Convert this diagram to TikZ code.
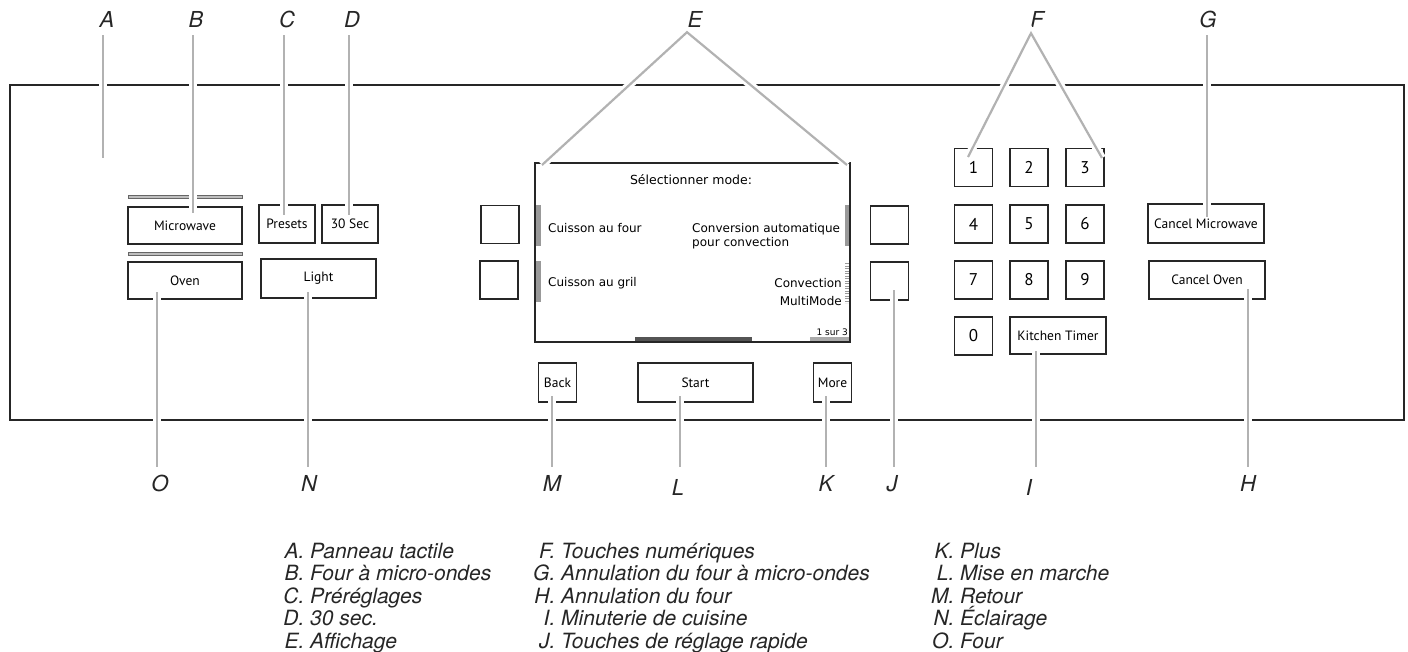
\documentclass[tikz,border=0pt]{standalone}
\usepackage{fontspec}
\setmainfont{TeX Gyre Heros}
\newfontfamily\keyfont{PT Sans}
\newfontfamily\lcdfont{DejaVu Sans}

\begin{document}
\begin{tikzpicture}[
        x=1pt, y=-1pt,
        key/.style={draw=black!85, line width=1.8pt, inner sep=0pt, minimum width=38pt, minimum height=38pt, font=\keyfont\fontsize{13.5}{15}\selectfont},
        widekey/.style={key, minimum width=115pt},
        digitkey/.style={key, font=\keyfont\fontsize{17}{19}\selectfont},
        callout/.style={font=\itshape\fontsize{22}{22}\selectfont, text=black!85, text height=16pt, text depth=0pt, inner xsep=0pt, inner ysep=8pt},
        leader/.style={draw=black!30, line width=2.2pt, preaction={draw=white, line width=8pt}},
        lcdtext/.style={font=\lcdfont\fontsize{12}{14.5}\selectfont, inner sep=0pt},
        legend/.style={font=\itshape\fontsize{21}{23}\selectfont, text=black!85, anchor=base west, inner sep=0pt}
    ]
        \useasboundingbox (0,0) rectangle (1408,651);

        % Touch panel
        \draw[line width=2.2pt, black!85] (10,85) rectangle (1404,420);

        % Cooking keys on the left
        \draw[draw=black!60, fill=black!25, line width=0.6pt] (128,195.5) rectangle (242,198.5);
        \draw[draw=black!60, fill=black!25, line width=0.6pt] (128,252) rectangle (242,255);
        \node[widekey, minimum width=114pt, minimum height=37pt] (microwave) at (185,225.5) {Microwave};
        \node[widekey, minimum width=114pt, minimum height=37pt] (oven) at (185,280.5) {Oven};
        \node[key, minimum width=56pt] (presets) at (287,224) {Presets};
        \node[key, minimum width=56pt] (sec30) at (350,224) {30 Sec};
        \node[widekey, minimum height=39pt] (light) at (318.5,278.5) {Light};

        % Soft keys beside the display
        \node[key] (softL1) at (500,224.5) {};
        \node[key] (softL2) at (499,280) {};
        \node[key] (softR1) at (889.5,225) {};
        \node[key] (softR2) at (889.5,281) {};

        % Display
        \fill[black!40] (536,205) rectangle (541,246);
        \fill[black!40] (536,261) rectangle (541,302);
        \fill[black!40] (845,205) rectangle (850,246);
        \draw[black!40, line width=5pt, dash pattern=on 1.2pt off 1.3pt] (847.5,263) -- (847.5,303);
        \fill[black!67] (635,337) rectangle (752,342);
        \fill[black!33] (810,337) rectangle (849,342);
        \draw[line width=1.5pt, black!85] (535,163) rectangle (850,342);
        \node[lcdtext, font=\lcdfont\fontsize{12.5}{14.5}\selectfont] (title) at (691,180) {Sélectionner mode:};
        \node[lcdtext, anchor=west] (bake) at (548,228) {Cuisson au four};
        \node[lcdtext, anchor=west] (broil) at (548,283) {Cuisson au gril};
        \node[lcdtext, anchor=west, align=left] (convert) at (692,236) {Conversion automatique\\pour convection};
        \node[lcdtext, anchor=east, align=right, font=\lcdfont\fontsize{12}{18}\selectfont] (multimode) at (842,292) {Convection\\MultiMode};
        \node[lcdtext, anchor=east, font=\lcdfont\fontsize{9}{10}\selectfont] (page) at (848,332) {1 sur 3};

        % Keys below the display
        \node[key, minimum height=39pt] (back) at (557.5,382.5) {Back};
        \node[widekey, minimum height=39pt] (start) at (695.5,382.5) {Start};
        \node[key, minimum height=39pt] (more) at (832.5,382.5) {More};

        % Number pad
        \node[digitkey] (k1) at (973.5,167.5) {1};
        \node[digitkey] (k2) at (1029,167.5) {2};
        \node[digitkey] (k3) at (1085,167.5) {3};
        \node[digitkey] (k4) at (973.5,224) {4};
        \node[digitkey] (k5) at (1029,224) {5};
        \node[digitkey] (k6) at (1085,224) {6};
        \node[digitkey] (k7) at (973.5,280) {7};
        \node[digitkey] (k8) at (1029,280) {8};
        \node[digitkey] (k9) at (1085,280) {9};
        \node[digitkey] (k0) at (973.5,336) {0};
        \node[key, minimum width=96pt, minimum height=37pt] (timer) at (1058,335.5) {Kitchen Timer};

        % Cancel keys
        \node[key, minimum width=116pt, minimum height=39pt] (cancelmw) at (1206,223.5) {Cancel Microwave};
        \node[key, minimum width=116pt] (canceloven) at (1207,280) {Cancel Oven};

        % Callouts above the panel
        \node[callout] (cA) at (107,19) {A};
        \node[callout] (cB) at (196,19) {B};
        \node[callout] (cC) at (287,19) {C};
        \node[callout] (cD) at (352,19) {D};
        \node[callout] (cE) at (695,19) {E};
        \node[callout] (cF) at (1037,19) {F};
        \node[callout] (cG) at (1208,19) {G};
        \coordinate (tA) at (103,158);
        \coordinate (tB) at (193,213);
        \coordinate (tC) at (284,215);
        \coordinate (tD) at (349,215);
        \coordinate (tEl) at (542,165);
        \coordinate (tEr) at (847,165);
        \coordinate (tFl) at (968,157);
        \coordinate (tFr) at (1102,158);
        \coordinate (tG) at (1207,217);
        \draw[leader] (cA.south -| tA) -- (tA);
        \draw[leader] (cB.south -| tB) -- (tB);
        \draw[leader] (cC.south -| tC) -- (tC);
        \draw[leader] (cD.south -| tD) -- (tD);
        \draw[leader] (tEl) -- ([xshift=-8pt, yshift=3pt]cE.south) -- (tEr);
        \draw[leader] (tFl) -- ([xshift=-6pt, yshift=2pt]cF.south) -- (tFr);
        \draw[leader] (cG.south -| tG) -- (tG);

        % Callouts below the panel
        \node[callout] (cO) at (160,483) {O};
        \node[callout] (cN) at (309,483) {N};
        \node[callout] (cM) at (552,483) {M};
        \node[callout] (cL) at (678,487) {L};
        \node[callout] (cK) at (826,483) {K};
        \node[callout] (cJ) at (892,483) {J};
        \node[callout] (cI) at (1029,487) {I};
        \node[callout] (cH) at (1248,483) {H};
        \coordinate (tO) at (157,292);
        \coordinate (tN) at (308,292);
        \coordinate (tM) at (552,396);
        \coordinate (tL) at (680,396);
        \coordinate (tK) at (826,396);
        \coordinate (tJ) at (894,290);
        \coordinate (tI) at (1036,351);
        \coordinate (tH) at (1248,289);
        \draw[leader] (tO) -- (cO.north -| tO);
        \draw[leader] (tN) -- (cN.north -| tN);
        \draw[leader] (tM) -- (cM.north -| tM);
        \draw[leader] (tL) -- ([yshift=4pt]cL.north -| tL);
        \draw[leader] (tK) -- (cK.north -| tK);
        \draw[leader] (tJ) -- (cJ.north -| tJ);
        \draw[leader] (tI) -- ([yshift=4pt]cI.north -| tI);
        \draw[leader] (tH) -- (cH.north -| tH);

        % Key to the callouts
        \node[legend] (legA) at (310,558) {\llap{A.\ }Panneau tactile};
        \node[legend] (legB) at (310,580.5) {\llap{B.\ }Four à micro-ondes};
        \node[legend] (legC) at (310,603) {\llap{C.\ }Préréglages};
        \node[legend] (legD) at (310,625.5) {\llap{D.\ }30 sec.};
        \node[legend] (legE) at (310,648) {\llap{E.\ }Affichage};
        \node[legend] (legF) at (561,558) {\llap{F.\ }Touches numériques};
        \node[legend] (legG) at (561,580.5) {\llap{G.\ }Annulation du four à micro-ondes};
        \node[legend] (legH) at (561,603) {\llap{H.\ }Annulation du four};
        \node[legend] (legI) at (561,625.5) {\llap{I.\ }Minuterie de cuisine};
        \node[legend] (legJ) at (561,648) {\llap{J.\ }Touches de réglage rapide};
        \node[legend] (legK) at (960,558) {\llap{K.\ }Plus};
        \node[legend] (legL) at (960,580.5) {\llap{L.\ }Mise en marche};
        \node[legend] (legM) at (960,603) {\llap{M.\ }Retour};
        \node[legend] (legN) at (960,625.5) {\llap{N.\ }Éclairage};
        \node[legend] (legO) at (960,648) {\llap{O.\ }Four};
    \end{tikzpicture}
\end{document}
